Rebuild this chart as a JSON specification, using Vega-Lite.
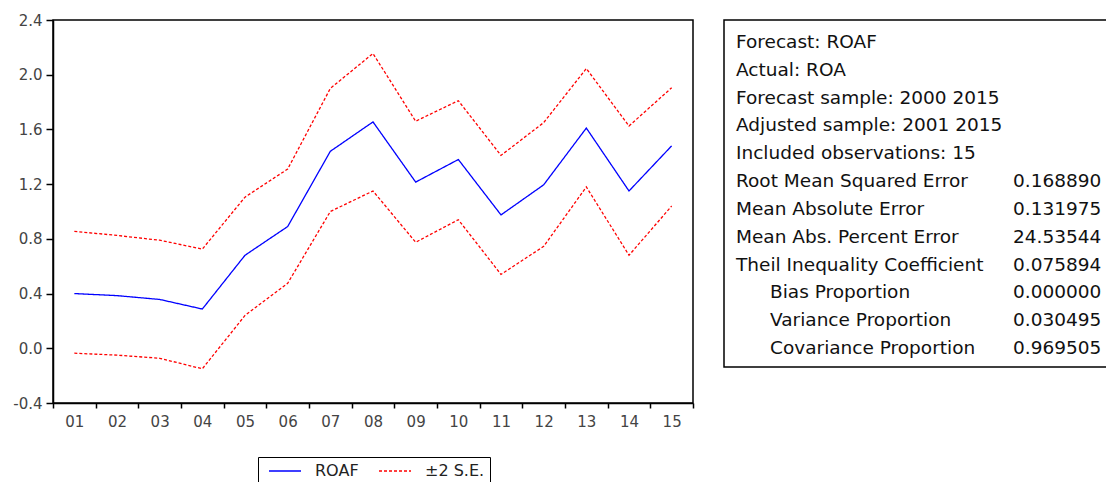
{
  "$schema": "https://vega.github.io/schema/vega-lite/v6.json",
  "padding": {"left": 11, "top": 12, "right": 0, "bottom": 0},
  "background": "white",
  "spacing": 28,
  "datasets": {
    "forecast": [
      {"year": "01", "series": "ROAF", "band": "ROAF", "value": 0.40},
      {"year": "02", "series": "ROAF", "band": "ROAF", "value": 0.385},
      {"year": "03", "series": "ROAF", "band": "ROAF", "value": 0.357},
      {"year": "04", "series": "ROAF", "band": "ROAF", "value": 0.287},
      {"year": "05", "series": "ROAF", "band": "ROAF", "value": 0.68},
      {"year": "06", "series": "ROAF", "band": "ROAF", "value": 0.89},
      {"year": "07", "series": "ROAF", "band": "ROAF", "value": 1.44},
      {"year": "08", "series": "ROAF", "band": "ROAF", "value": 1.655},
      {"year": "09", "series": "ROAF", "band": "ROAF", "value": 1.215},
      {"year": "10", "series": "ROAF", "band": "ROAF", "value": 1.38},
      {"year": "11", "series": "ROAF", "band": "ROAF", "value": 0.975},
      {"year": "12", "series": "ROAF", "band": "ROAF", "value": 1.195},
      {"year": "13", "series": "ROAF", "band": "ROAF", "value": 1.61},
      {"year": "14", "series": "ROAF", "band": "ROAF", "value": 1.15},
      {"year": "15", "series": "ROAF", "band": "ROAF", "value": 1.48},
      {"year": "01", "series": "upper", "band": "±2 S.E.", "value": 0.855},
      {"year": "02", "series": "upper", "band": "±2 S.E.", "value": 0.825},
      {"year": "03", "series": "upper", "band": "±2 S.E.", "value": 0.79},
      {"year": "04", "series": "upper", "band": "±2 S.E.", "value": 0.725},
      {"year": "05", "series": "upper", "band": "±2 S.E.", "value": 1.105},
      {"year": "06", "series": "upper", "band": "±2 S.E.", "value": 1.31},
      {"year": "07", "series": "upper", "band": "±2 S.E.", "value": 1.90},
      {"year": "08", "series": "upper", "band": "±2 S.E.", "value": 2.155},
      {"year": "09", "series": "upper", "band": "±2 S.E.", "value": 1.66},
      {"year": "10", "series": "upper", "band": "±2 S.E.", "value": 1.81},
      {"year": "11", "series": "upper", "band": "±2 S.E.", "value": 1.41},
      {"year": "12", "series": "upper", "band": "±2 S.E.", "value": 1.65},
      {"year": "13", "series": "upper", "band": "±2 S.E.", "value": 2.045},
      {"year": "14", "series": "upper", "band": "±2 S.E.", "value": 1.625},
      {"year": "15", "series": "upper", "band": "±2 S.E.", "value": 1.905},
      {"year": "01", "series": "lower", "band": "±2 S.E.", "value": -0.036},
      {"year": "02", "series": "lower", "band": "±2 S.E.", "value": -0.05},
      {"year": "03", "series": "lower", "band": "±2 S.E.", "value": -0.073},
      {"year": "04", "series": "lower", "band": "±2 S.E.", "value": -0.15},
      {"year": "05", "series": "lower", "band": "±2 S.E.", "value": 0.24},
      {"year": "06", "series": "lower", "band": "±2 S.E.", "value": 0.475},
      {"year": "07", "series": "lower", "band": "±2 S.E.", "value": 1.0},
      {"year": "08", "series": "lower", "band": "±2 S.E.", "value": 1.15},
      {"year": "09", "series": "lower", "band": "±2 S.E.", "value": 0.775},
      {"year": "10", "series": "lower", "band": "±2 S.E.", "value": 0.94},
      {"year": "11", "series": "lower", "band": "±2 S.E.", "value": 0.54},
      {"year": "12", "series": "lower", "band": "±2 S.E.", "value": 0.745},
      {"year": "13", "series": "lower", "band": "±2 S.E.", "value": 1.18},
      {"year": "14", "series": "lower", "band": "±2 S.E.", "value": 0.68},
      {"year": "15", "series": "lower", "band": "±2 S.E.", "value": 1.04}
    ],
    "stats": [
      {"line": 1, "part": "label", "text": "Forecast: ROAF"},
      {"line": 2, "part": "label", "text": "Actual: ROA"},
      {"line": 3, "part": "label", "text": "Forecast sample: 2000 2015"},
      {"line": 4, "part": "label", "text": "Adjusted sample: 2001 2015"},
      {"line": 5, "part": "label", "text": "Included observations: 15"},
      {"line": 6, "part": "label", "text": "Root Mean Squared Error"},
      {"line": 6, "part": "value", "text": "0.168890"},
      {"line": 7, "part": "label", "text": "Mean Absolute Error"},
      {"line": 7, "part": "value", "text": "0.131975"},
      {"line": 8, "part": "label", "text": "Mean Abs. Percent Error"},
      {"line": 8, "part": "value", "text": "24.53544"},
      {"line": 9, "part": "label", "text": "Theil Inequality Coefficient"},
      {"line": 9, "part": "value", "text": "0.075894"},
      {"line": 10, "part": "sublabel", "text": "Bias Proportion"},
      {"line": 10, "part": "value", "text": "0.000000"},
      {"line": 11, "part": "sublabel", "text": "Variance Proportion"},
      {"line": 11, "part": "value", "text": "0.030495"},
      {"line": 12, "part": "sublabel", "text": "Covariance Proportion"},
      {"line": 12, "part": "value", "text": "0.969505"}
    ]
  },
  "hconcat": [
    {
      "width": 640,
      "height": 383,
      "data": {"name": "forecast"},
      "mark": {"type": "line", "strokeWidth": 1.3},
      "encoding": {
        "x": {
          "field": "year", "type": "ordinal", "bandPosition": 0.5,
          "scale": {"type": "band", "paddingInner": 0, "paddingOuter": 0},
          "axis": {"title": null, "labelAngle": 0, "tickBand": "extent", "tickSize": 5, "labelPadding": 6,
                   "domainColor": "#000", "domainWidth": 1.5, "tickColor": "#000", "tickWidth": 1.5,
                   "labelFont": "DejaVu Sans", "labelFontSize": 15, "labelColor": "#444", "grid": false}
        },
        "y": {
          "field": "value", "type": "quantitative",
          "scale": {"domain": [-0.4, 2.4], "nice": false, "zero": false},
          "axis": {"title": null, "values": [-0.4, 0, 0.4, 0.8, 1.2, 1.6, 2.0, 2.4],
                   "labelExpr": "datum.value < 0 ? '-' + format(-datum.value, '.1f') : format(datum.value, '.1f')",
                   "tickSize": 7, "labelPadding": 4, "domainColor": "#000", "domainWidth": 1.5,
                   "tickColor": "#000", "tickWidth": 1.5, "labelFont": "DejaVu Sans", "labelFontSize": 15,
                   "labelColor": "#444", "grid": false}
        },
        "color": {
          "field": "band", "type": "nominal",
          "scale": {"domain": ["ROAF", "±2 S.E."], "range": ["#0000ff", "#ff0000"]},
          "legend": {"title": null, "orient": "none", "legendX": 205, "legendY": 437, "direction": "horizontal",
                     "strokeColor": "#000", "padding": 5, "symbolType": "M-2,0H2", "symbolSize": 256,
                     "symbolOffset": 13, "symbolStrokeWidth": 1.5, "labelFont": "DejaVu Sans", "labelFontSize": 16,
                     "labelColor": "#222", "labelOffset": 21, "columnPadding": 14, "fillColor": "white"}
        },
        "strokeDash": {
          "field": "band", "type": "nominal",
          "scale": {"domain": ["ROAF", "±2 S.E."], "range": [[1, 0], [3, 2]]},
          "legend": {"title": null, "orient": "none", "legendX": 205, "legendY": 437, "direction": "horizontal",
                     "strokeColor": "#000", "padding": 5, "symbolType": "M-2,0H2", "symbolSize": 256,
                     "symbolOffset": 13, "symbolStrokeWidth": 1.5, "labelFont": "DejaVu Sans", "labelFontSize": 16,
                     "labelColor": "#222", "labelOffset": 21, "columnPadding": 14, "fillColor": "white"}
        },
        "detail": {"field": "series"}
      }
    },
    {
      "width": 384,
      "height": 347,
      "data": {"name": "stats"},
      "layer": [
        {
          "transform": [{"filter": "datum.part != 'value'"}],
          "mark": {"type": "text", "align": "left", "baseline": "alphabetic", "font": "DejaVu Sans", "fontSize": 18.5, "color": "#111"},
          "encoding": {
            "x": {"field": "part", "type": "nominal", "scale": {"type": "point", "domain": ["label", "sublabel"], "range": [12, 46], "padding": 0}, "axis": null},
            "y": {"field": "line", "type": "quantitative", "scale": {"domain": [0, 12.46], "reverse": true, "nice": false, "zero": false}, "axis": null},
            "text": {"field": "text"}
          }
        },
        {
          "transform": [{"filter": "datum.part == 'value'"}],
          "mark": {"type": "text", "align": "left", "baseline": "alphabetic", "font": "DejaVu Sans", "fontSize": 18.5, "color": "#111"},
          "encoding": {
            "x": {"field": "part", "type": "nominal", "scale": {"type": "point", "domain": ["value"], "range": [289, 289], "padding": 0}, "axis": null},
            "y": {"field": "line", "type": "quantitative", "scale": {"domain": [0, 12.46], "reverse": true, "nice": false, "zero": false}, "axis": null},
            "text": {"field": "text"}
          }
        }
      ],
      "resolve": {"scale": {"x": "independent"}}
    }
  ],
  "config": {
    "view": {"stroke": "#000", "strokeWidth": 1.5}
  }
}
